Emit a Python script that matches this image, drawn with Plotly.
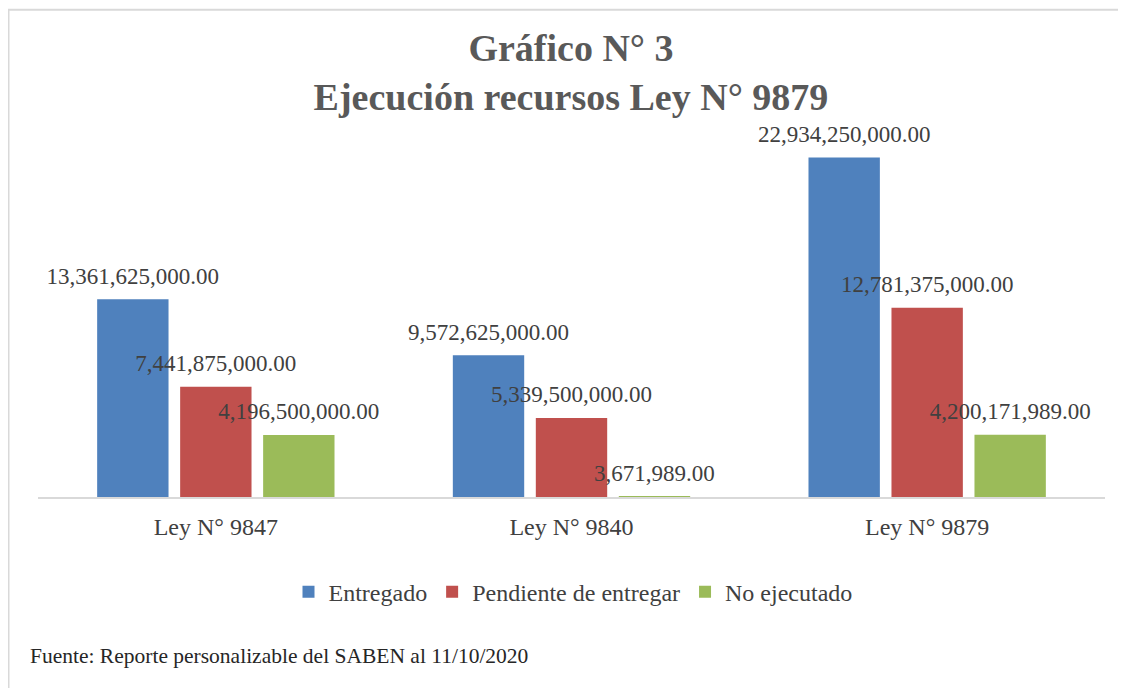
import plotly.graph_objects as go

categories = ["Ley N° 9847", "Ley N° 9840", "Ley N° 9879"]
series_names = ["Entregado", "Pendiente de entregar", "No ejecutado"]
entregado = [13361625000.00, 9572625000.00, 22934250000.00]
pendiente = [7441875000.00, 5339500000.00, 12781375000.00]
no_ejecutado = [4196500000.00, 3671989.00, 4200171989.00]
colors = ["#4F81BD", "#C0504D", "#9BBB59"]

FONT = "Liberation Serif, Times New Roman, serif"
TXT = "#404040"

fig = go.Figure()
all_series = [entregado, pendiente, no_ejecutado]
for name, vals, col in zip(series_names, all_series, colors):
    fig.add_trace(go.Bar(
        name=name, x=categories, y=vals,
        marker=dict(color=col, line=dict(width=0)),
        hoverinfo="skip",
    ))
# data labels, grouped like the bars
for name, vals in zip(series_names, all_series):
    fig.add_trace(go.Scatter(
        x=categories, y=vals, mode="markers+text",
        marker=dict(size=14, opacity=0),
        texttemplate="%{y:,.2f}", textposition="top center",
        textfont=dict(family=FONT, size=23, color=TXT),
        cliponaxis=False, showlegend=False, hoverinfo="skip",
    ))

OFF = 8  # page body offset
W, H = 1126 - OFF, 688 - OFF
plot_left, plot_right = 38 - OFF, 1105 - OFF
plot_top, plot_bottom = 126.6 - OFF, 497.5 - OFF
L, R, T, B = plot_left, W - plot_right, plot_top, H - plot_bottom
pw, ph = plot_right - plot_left, plot_bottom - plot_top

def fx(p):  # reference pixel -> paper x
    return (p - OFF - L) / pw

def fy(p):  # reference pixel -> paper y
    return (plot_bottom - (p - OFF)) / ph

fig.update_layout(
    width=W, height=H,
    margin=dict(l=L, r=R, t=T, b=B, pad=0),
    paper_bgcolor="white", plot_bgcolor="white",
    barmode="group", bargap=0.30, bargroupgap=0.14,
    scattermode="group", scattergap=0.30,
    font=dict(family=FONT, color=TXT),
    title=dict(
        text="<b>Gráfico N° 3<br>Ejecución recursos Ley N° 9879</b>",
        font=dict(family=FONT, size=38, color="#595959"),
        x=(571 - OFF) / W, xanchor="center", xref="container",
        y=1 - 52.5 / H, yanchor="middle", yref="container",
    ),
    xaxis=dict(
        showline=True, linecolor="#d9d9d9", linewidth=1.5,
        ticks="", showgrid=False, zeroline=False,
        tickfont=dict(family=FONT, size=24, color=TXT),
        ticklabelstandoff=7,
    ),
    yaxis=dict(visible=False, range=[0, 25e9], showgrid=False, zeroline=False),
    legend=dict(
        orientation="h", x=fx(573), xanchor="center",
        y=fy(593), yanchor="middle",
        font=dict(family=FONT, size=24, color=TXT),
        itemwidth=30, traceorder="normal",
    ),
    showlegend=True,
    annotations=[dict(
        text="Fuente: Reporte personalizable del SABEN al 11/10/2020",
        xref="paper", yref="paper", x=fx(28), y=fy(657),
        xanchor="left", yanchor="middle", showarrow=False,
        font=dict(family=FONT, size=21.5, color="#262626"),
    )],
    shapes=[dict(
        type="rect", xref="paper", yref="paper",
        x0=fx(8.5), x1=fx(1150), y0=fy(720), y1=fy(9),
        line=dict(color="#d9d9d9", width=2), fillcolor="rgba(0,0,0,0)",
        layer="below",
    )],
)

fig.write_html("out.html")
